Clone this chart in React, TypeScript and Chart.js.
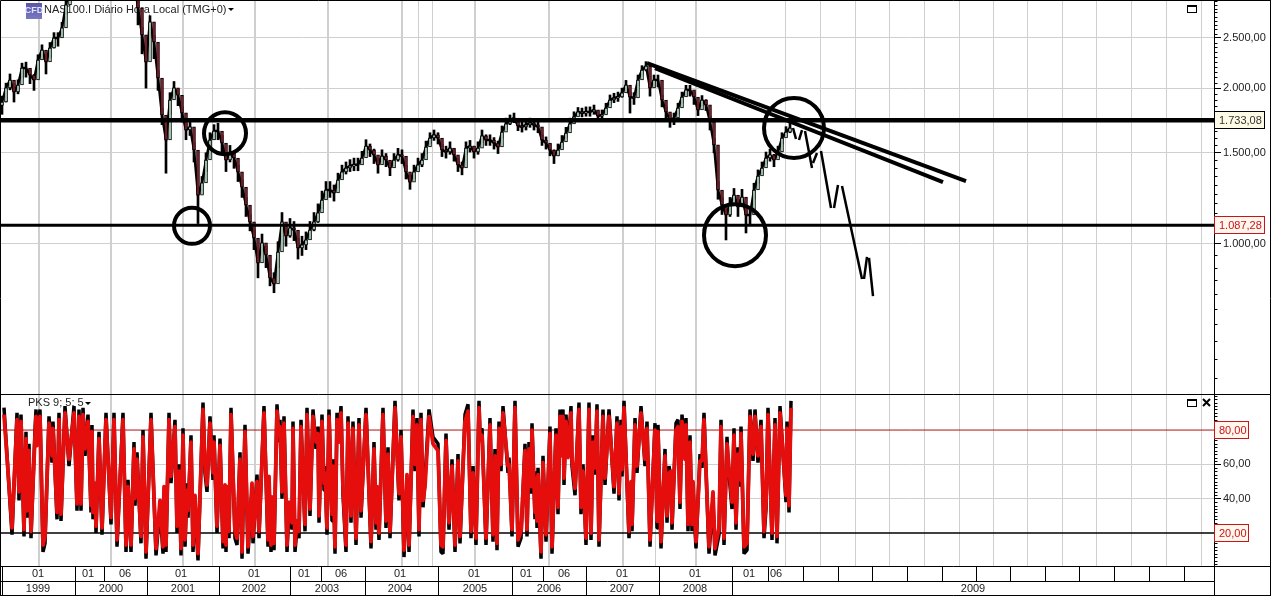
import React, { useEffect, useRef } from "react";
import { Chart, registerables } from "chart.js";

Chart.register(...registerables);

const sessionStep = 4;
const firstSession = 2;

const closes = [
  1880, 2002, 2074, 1966, 2028, 2187, 2187, 2120, 2074, 2267,
  2370, 2247, 2391, 2500, 2500, 2614, 2896, 3150, 3400, 3650,
  3900, 4050, 4400, 4650, 3950, 3400, 3700, 3720, 3800, 3900,
  3820, 3650, 3400, 3250, 2856, 2534, 2247, 2685, 2456, 2092,
  1775, 1588, 1897, 2002, 1938, 1791, 1660, 1683, 1519, 1243,
  1312, 1453, 1588, 1653, 1653, 1567, 1453, 1499, 1466, 1378,
  1288, 1189, 1103, 1027, 919, 1005, 952, 860, 837, 965,
  1103, 1036, 1074, 1064, 983, 996, 1018, 1064, 1103, 1148,
  1216, 1271, 1271, 1255, 1329, 1378, 1402, 1415, 1422, 1422,
  1466, 1546, 1519, 1486, 1422, 1479, 1453, 1402, 1453, 1486,
  1479, 1378, 1317, 1378, 1422, 1453, 1539, 1602, 1624, 1602,
  1519, 1506, 1532, 1486, 1422, 1402, 1532, 1546, 1506, 1532,
  1617, 1588, 1588, 1567, 1539, 1645, 1706, 1736, 1751, 1690,
  1683, 1698, 1713, 1698, 1683, 1588, 1567, 1519, 1479, 1519,
  1574, 1638, 1706, 1760, 1799, 1791, 1799, 1799, 1815, 1767,
  1775, 1831, 1897, 1914, 1923, 1958, 2028, 1923, 1914, 2074,
  2168, 2207, 2002, 2074, 2074, 1897, 1799, 1736, 1751, 1831,
  1923, 1984, 1984, 1923, 1815, 1897, 1856, 1721, 1554, 1271,
  1189, 1138, 1189, 1243, 1179, 1232, 1138, 1138, 1271, 1353,
  1402, 1466, 1486, 1453, 1506, 1602, 1645, 1675,
];

const highs = [
  1930, 2045, 2130, 2040, 2075, 2235, 2245, 2170, 2125, 2320,
  2425, 2310, 2450, 2560, 2560, 2680, 2980, 3250, 3500, 3750,
  4000, 4150, 4500, 4750, 4100, 3550, 3800, 3820, 3900, 4000,
  3950, 3750, 3500, 3350, 2950, 2620, 2330, 2760, 2530, 2160,
  1830, 1640, 1960, 2060, 1990, 1840, 1710, 1730, 1570, 1290,
  1350, 1500, 1640, 1700, 1710, 1620, 1500, 1550, 1510, 1420,
  1330, 1230, 1140, 1065, 960, 1045, 990, 895, 880, 1010,
  1150, 1080, 1120, 1105, 1025, 1035, 1055, 1105, 1150, 1195,
  1265, 1320, 1320, 1300, 1370, 1420, 1440, 1455, 1465, 1465,
  1510, 1590, 1560, 1525, 1465, 1520, 1495, 1445, 1495, 1530,
  1520, 1420, 1360, 1420, 1465, 1495, 1580, 1640, 1660, 1640,
  1560, 1545, 1575, 1525, 1465, 1440, 1575, 1585, 1545, 1575,
  1660, 1625, 1625, 1605, 1580, 1690, 1750, 1775, 1790, 1730,
  1720, 1735, 1750, 1735, 1720, 1625, 1610, 1560, 1520, 1560,
  1620, 1680, 1750, 1800, 1835, 1830, 1840, 1840, 1855, 1810,
  1815, 1870, 1940, 1955, 1965, 2000, 2070, 1965, 1960, 2120,
  2210, 2250, 2050, 2120, 2120, 1940, 1840, 1775, 1790, 1870,
  1965, 2025, 2025, 1965, 1860, 1935, 1900, 1765, 1600, 1320,
  1230, 1170, 1230, 1280, 1220, 1275, 1175, 1180, 1310, 1390,
  1440, 1505, 1525, 1490, 1545, 1640, 1685, 1715,
];

const lows = [
  1780, 1880, 1985, 1880, 1950, 2090, 2100, 2040, 1980, 2170,
  2270, 2130, 2290, 2390, 2410, 2520, 2780, 3000, 3250, 3500,
  3750, 3900, 4200, 4400, 3700, 3200, 3500, 3550, 3650, 3750,
  3650, 3450, 3200, 3050, 2650, 2330, 2000, 2500, 2280, 1980,
  1700, 1370, 1780, 1920, 1850, 1720, 1590, 1620, 1440, 1095,
  1250, 1380, 1520, 1590, 1590, 1500, 1380, 1440, 1400, 1320,
  1230, 1130, 1060, 975, 860, 960, 900, 830, 805, 900,
  1050, 990, 1030, 1015, 935, 950, 975, 1020, 1060, 1100,
  1170, 1225, 1230, 1210, 1285, 1335, 1365, 1380, 1385, 1385,
  1425, 1500, 1475, 1430, 1370, 1430, 1410, 1355, 1405, 1445,
  1430, 1335, 1275, 1335, 1380, 1410, 1495, 1560, 1585, 1560,
  1475, 1465, 1490, 1445, 1380, 1360, 1490, 1505, 1465, 1490,
  1570, 1550, 1550, 1525, 1495, 1600, 1665, 1700, 1715, 1655,
  1645, 1660, 1680, 1660, 1640, 1550, 1525, 1480, 1430, 1480,
  1530, 1600, 1670, 1720, 1765, 1760, 1765, 1765, 1780, 1730,
  1740, 1790, 1860, 1875, 1885, 1920, 1985, 1790, 1860, 2020,
  2120, 2160, 1930, 2010, 2010, 1840, 1740, 1680, 1700, 1780,
  1870, 1930, 1930, 1860, 1770, 1850, 1810, 1660, 1500, 1220,
  1140, 1018, 1130, 1190, 1130, 1180, 1050, 1090, 1220, 1310,
  1365, 1425, 1445, 1410, 1465, 1560, 1610, 1640,
];

const oscSessions = [
  4, 12, 17, 19, 21, 24, 26, 27, 29, 31,
  35, 36, 37, 40, 43, 45, 49, 52, 53, 57,
  59, 61, 65, 69, 74, 77, 79, 81, 83, 85,
  88, 91, 92, 93, 95, 96, 99, 102, 106, 111,
  114, 117, 123, 126, 128, 131, 134, 135, 137, 141,
  143, 146, 151, 156, 160, 163, 164, 166, 169, 171,
  175, 177, 179, 181, 183, 185, 187, 188, 191, 193,
  195, 198, 203, 205, 207, 210, 213, 214, 217, 220,
  223, 225, 226, 227, 229, 231, 235, 237, 240, 242,
  245, 248, 252, 253, 257, 259, 264, 268, 269, 271,
  272, 274, 277, 279, 280, 282, 284, 287, 289, 292,
  293, 295, 297, 299, 301, 305, 307, 310, 313, 316,
  318, 319, 322, 324, 325, 327, 329, 332, 333, 335,
  337, 339, 341, 343, 346, 348, 351, 353, 356, 359,
  361, 366, 371, 374, 376, 377, 379, 383, 386, 388,
  390, 395, 399, 401, 404, 407, 409, 413, 415, 417,
  419, 421, 423, 425, 429, 433, 438, 441, 443, 446,
  449, 452, 455, 458, 460, 465, 468, 471, 473, 476,
  479, 480, 482, 486, 490, 493, 495, 497, 499, 501,
  503, 508, 509, 512, 515, 518, 521, 525, 527, 529,
  531, 532, 535, 536, 537, 538, 541, 543, 546, 550,
  552, 556, 558, 560, 561, 563, 564, 566, 568, 571,
  572, 575, 579, 581, 583, 586, 589, 591, 593, 595,
  597, 599, 603, 605, 609, 614, 617, 619, 621, 622,
  624, 629, 631, 632, 635, 637, 641, 645, 647, 650,
  655, 657, 658, 661, 665, 667, 669, 671, 672, 676,
  678, 680, 682, 685, 686, 688, 690, 692, 693, 696,
  700, 702, 704, 709, 713, 715, 719, 721, 724, 727,
  728, 732, 734, 736, 738, 740, 741, 744, 747, 750,
  753, 755, 758, 761, 764, 766, 768, 772, 775, 777,
  780, 786, 787, 789, 791,
];

const oscFast = [
  93, 19, 90, 39, 89, 18, 79, 29, 72, 17,
  80, 92, 75, 92, 9, 14, 88, 61, 85, 28,
  90, 27, 94, 59, 94, 33, 92, 33, 93, 65,
  89, 32, 83, 28, 45, 20, 79, 19, 90, 25,
  90, 12, 90, 9, 51, 9, 73, 36, 67, 14,
  80, 5, 90, 7, 35, 8, 43, 9, 90, 49,
  86, 20, 60, 7, 81, 12, 49, 29, 77, 9,
  38, 4, 96, 55, 44, 88, 51, 77, 20, 75,
  11, 44, 9, 43, 17, 93, 17, 13, 67, 5,
  83, 8, 45, 14, 54, 17, 94, 12, 49, 9,
  37, 10, 95, 73, 86, 40, 88, 9, 34, 22,
  85, 9, 23, 17, 86, 21, 93, 30, 92, 69,
  82, 26, 89, 45, 59, 19, 92, 27, 63, 8,
  90, 77, 94, 42, 9, 88, 26, 85, 13, 87,
  29, 93, 11, 73, 22, 43, 16, 93, 23, 70,
  17, 97, 39, 80, 6, 50, 9, 92, 56, 87,
  18, 90, 35, 51, 92, 76, 72, 9, 8, 78,
  22, 63, 9, 66, 14, 89, 95, 17, 59, 13,
  97, 78, 81, 13, 87, 15, 69, 10, 85, 56,
  94, 55, 64, 18, 97, 12, 17, 72, 18, 73,
  43, 84, 28, 56, 23, 58, 5, 65, 15, 82,
  8, 81, 31, 92, 69, 92, 48, 89, 68, 94,
  59, 42, 96, 31, 60, 13, 96, 16, 77, 54,
  95, 12, 92, 48, 92, 43, 88, 39, 86, 53,
  97, 17, 46, 21, 87, 55, 94, 59, 85, 12,
  84, 23, 83, 11, 69, 26, 59, 52, 22, 84,
  86, 34, 89, 67, 87, 21, 77, 21, 46, 11,
  66, 58, 90, 8, 40, 7, 19, 86, 13, 76,
  61, 34, 81, 22, 70, 47, 82, 8, 10, 92,
  62, 92, 61, 86, 17, 34, 93, 16, 87, 14,
  94, 38, 85, 32, 97,
];

const oscSlow = [
  89, 23, 86, 44, 85, 22, 75, 33, 68, 21,
  76, 88, 71, 88, 13, 18, 84, 65, 81, 32,
  86, 31, 90, 63, 90, 37, 88, 37, 89, 69,
  85, 36, 79, 32, 49, 24, 75, 23, 86, 29,
  86, 16, 86, 13, 47, 13, 69, 40, 63, 18,
  76, 9, 86, 11, 39, 12, 47, 13, 86, 53,
  82, 24, 56, 11, 77, 16, 45, 33, 73, 13,
  42, 8, 92, 59, 48, 84, 55, 73, 24, 71,
  15, 48, 13, 47, 21, 89, 21, 17, 63, 9,
  79, 12, 49, 18, 50, 21, 90, 16, 53, 13,
  41, 14, 91, 77, 82, 44, 84, 13, 38, 26,
  81, 13, 27, 21, 82, 25, 89, 34, 88, 73,
  78, 30, 85, 49, 55, 23, 88, 31, 59, 12,
  86, 73, 90, 46, 13, 84, 30, 81, 17, 83,
  33, 89, 15, 69, 26, 47, 20, 89, 27, 66,
  21, 93, 43, 76, 10, 54, 13, 88, 60, 83,
  22, 86, 39, 47, 88, 72, 68, 13, 12, 74,
  26, 59, 13, 62, 18, 85, 91, 21, 55, 17,
  93, 74, 77, 17, 83, 19, 65, 14, 81, 60,
  90, 59, 60, 22, 93, 16, 21, 68, 22, 69,
  47, 80, 32, 52, 27, 54, 9, 61, 19, 78,
  12, 77, 35, 88, 65, 88, 52, 85, 64, 90,
  63, 46, 92, 35, 56, 17, 92, 20, 73, 58,
  91, 16, 88, 52, 88, 47, 84, 43, 82, 57,
  93, 21, 50, 25, 83, 59, 90, 63, 81, 16,
  80, 27, 79, 15, 65, 30, 55, 56, 26, 80,
  82, 38, 85, 63, 83, 25, 73, 25, 50, 15,
  62, 62, 86, 12, 44, 11, 23, 82, 17, 72,
  65, 38, 77, 26, 66, 51, 78, 12, 14, 88,
  66, 88, 65, 82, 21, 38, 89, 20, 83, 18,
  90, 42, 81, 36, 93,
];

const resistance = 1733.08;
const support = 1087.28;
const oscUpper = 80;
const oscLower = 20;

const trendA = [[647, 2236], [966, 1323]];
const trendB = [[655, 2185], [943, 1317]];

const forecastSessions = [793, 796, 797, 799, 802, 803, 805, 812, 812.5, 813, 817, 819, 821, 831, 832, 834, 838, 840, 842, 862, 863, 864, 867, 868, 869, 873];
const forecastPrices = [1675, 1595, null, 1588, 1660, null, 1653, 1402, null, 1433, 1499, null, 1512, 1173, null, 1173, 1300, null, 1294, 856, null, 856, 944, null, 940, 793];

const circleSessions = [192, 225, 735, 794];
const circlePrices = [1084, 1637, 1040, 1675];
const circleRadii = [18, 21, 31, 30];

const priceTicks = [1000, 1500, 2000, 2500];
const priceTickLabels = ["1.000,00", "1.500,00", "2.000,00", "2.500,00"];
const priceMinorTicks = [550, 600, 650, 700, 750, 800, 850, 900, 950, 1050, 1100, 1150, 1200, 1250, 1300, 1350, 1400, 1450, 1550, 1600, 1650, 1700, 1750, 1800, 1850, 1900, 1950, 2050, 2100, 2150, 2200, 2250, 2300, 2350, 2400, 2450, 2550, 2600, 2650, 2700, 2750, 2800, 2850, 2900, 2950];
const oscTicks = [40, 60];
const oscTickLabels = ["40,00", "60,00"];
const oscMinorTicks = [2, 4, 6, 8, 10, 12, 14, 16, 18, 22, 24, 26, 28, 30, 32, 34, 36, 38, 42, 44, 46, 48, 50, 52, 54, 56, 58, 62, 64, 66, 68, 70, 72, 74, 76, 78, 82, 84, 86, 88, 90, 92, 94, 96, 98, 100];

const yearBoundaries = [2, 75, 147, 219, 290, 365, 438, 512, 586, 659, 732];
const monthBoundaries = [104, 321, 543, 768, 803, 838, 872, 907, 942, 976, 1010, 1045, 1079, 1114, 1149, 1184];
const yearLabels = ["1999", "2000", "2001", "2002", "2003", "2004", "2005", "2006", "2007", "2008", "2009"];
const yearLabelSessions = [38, 111, 183, 254, 327, 400, 475, 549, 622, 695, 973];
const monthLabels = ["01", "01", "06", "01", "01", "01", "06", "01", "01", "01", "06", "01", "01", "01", "06"];
const monthLabelSessions = [38, 88, 125, 181, 254, 304, 341, 400, 474, 526, 564, 622, 695, 749, 776];

const chartTitle = "NAS100.I Diário Hora Local (TMG+0)";
const oscTitle = "PKS 9; 5; 5";

const FONT = "'Liberation Sans', Arial, sans-serif";
const sessions = closes.map((_, i) => firstSession + i * sessionStep);

const noAxisPadding = (s: any) => {
  s.paddingTop = 0;
  s.paddingBottom = 0;
  s.paddingLeft = 0;
  s.paddingRight = 0;
};

const panelsPlugin = {
  id: "panels",
  beforeDatasetsDraw(chart: any) {
    const { ctx } = chart;
    ctx.save();
    ctx.font = `11px ${FONT}`;
    ctx.fillStyle = "#222";
    ctx.textAlign = "left";
    ctx.textBaseline = "middle";
    ctx.fillText(chartTitle, 44, 10);
    ctx.fillText(oscTitle, 28, 403);
    ctx.restore();
  },
  afterDraw(chart: any) {
    const { ctx, scales } = chart;
    const { x, yPrice, yOsc } = scales;
    const W = chart.width;
    const H = chart.height;
    const axisX = x.right;
    const paneTop = yOsc.top;
    const rowA = yOsc.bottom;
    const rowB = rowA + 15;
    ctx.save();
    ctx.strokeStyle = "#000";
    ctx.lineWidth = 1;
    const seg = (a: number, b: number, c: number, d: number) => {
      ctx.beginPath();
      ctx.moveTo(Math.round(a) + 0.5, Math.round(b) + 0.5);
      ctx.lineTo(Math.round(c) + 0.5, Math.round(d) + 0.5);
      ctx.stroke();
    };
    seg(0, paneTop, W, paneTop);
    seg(0, rowA, W, rowA);
    seg(0, rowB, axisX, rowB);
    seg(0, H - 1, W, H - 1);
    seg(W - 1, 0, W - 1, H);
    seg(0, 0, W, 0);
    seg(0, 0, 0, H);
    seg(axisX, 0, axisX, H);
    yearBoundaries.forEach((v) => seg(x.getPixelForValue(v), rowA, x.getPixelForValue(v), H - 1));
    monthBoundaries.forEach((v) => seg(x.getPixelForValue(v), rowA, x.getPixelForValue(v), rowB));

    priceMinorTicks.forEach((v) => {
      const p = yPrice.getPixelForValue(v);
      seg(axisX, p, axisX + 3, p);
    });
    oscMinorTicks.forEach((v) => {
      const p = yOsc.getPixelForValue(v);
      seg(axisX, p, axisX + 3, p);
    });

    ctx.font = `11px ${FONT}`;
    ctx.fillStyle = "#222";
    ctx.textAlign = "center";
    ctx.textBaseline = "middle";
    monthLabels.forEach((t, i) => ctx.fillText(t, x.getPixelForValue(monthLabelSessions[i]), rowA + 8));
    yearLabels.forEach((t, i) => ctx.fillText(t, x.getPixelForValue(yearLabelSessions[i]), rowB + 7.5));

    const tag = (scale: any, value: number, label: string, w: number, border: string, fill: string, color: string) => {
      const p = Math.round(scale.getPixelForValue(value));
      ctx.fillStyle = fill;
      ctx.fillRect(axisX + 0.5, p - 8.5, w, 17);
      ctx.strokeStyle = border;
      ctx.strokeRect(axisX + 0.5, p - 8.5, w, 17);
      ctx.fillStyle = color;
      ctx.textAlign = "left";
      ctx.fillText(label, axisX + 5, p + 0.5);
    };
    tag(yPrice, resistance, "1.733,08", 50, "#000", "#fdfbe6", "#333");
    tag(yPrice, support, "1.087,28", 50, "#c8141e", "#fff6ec", "#c8141e");
    tag(yOsc, oscUpper, "80,00", 34, "#c8141e", "#fff6ec", "#c8141e");
    tag(yOsc, oscLower, "20,00", 34, "#c8141e", "#fff6ec", "#c8141e");

    // window buttons and indicator arrows
    ctx.strokeStyle = "#000";
    ctx.fillStyle = "#000";
    const maxBtn = (bx: number, by: number) => {
      ctx.lineWidth = 1;
      ctx.strokeRect(bx + 0.5, by + 0.5, 9, 7);
      ctx.fillRect(bx, by, 10, 2);
    };
    maxBtn(1187, 5);
    maxBtn(1187, 399);
    ctx.lineWidth = 2;
    ctx.beginPath();
    ctx.moveTo(1203, 399);
    ctx.lineTo(1210, 406);
    ctx.moveTo(1210, 399);
    ctx.lineTo(1203, 406);
    ctx.stroke();
    const arrow = (ax: number, ay: number) => {
      ctx.beginPath();
      ctx.moveTo(ax, ay);
      ctx.lineTo(ax + 6, ay);
      ctx.lineTo(ax + 3, ay + 3);
      ctx.closePath();
      ctx.fill();
    };
    arrow(228, 8);
    arrow(85, 402);

    // data feed badge
    const g = ctx.createLinearGradient(26, 3, 26, 19);
    g.addColorStop(0, "#5a55a8");
    g.addColorStop(1, "#7a78c0");
    ctx.fillStyle = g;
    ctx.fillRect(26, 3, 16, 16);
    ctx.fillStyle = "#dfe4ff";
    ctx.font = `bold 9px ${FONT}`;
    ctx.textAlign = "center";
    ctx.fillText("CFD", 34, 11);
    ctx.restore();
  },
};

export default function App() {
  const ref = useRef<HTMLCanvasElement | null>(null);

  useEffect(() => {
    document.body.style.margin = "0";
    const bodies = closes.map((c, i) => ({ x: sessions[i], y: [i === 0 ? c * 0.985 : closes[i - 1], c] }));
    const bodyColors = closes.map((c, i) => (i > 0 && c < closes[i - 1] ? "#8f1a28" : "#b8e4ca"));
    const line = (data: any[], yAxisID: string, color: string, width: number, order: number, extra: any = {}) => ({
      type: "line",
      data,
      yAxisID,
      xAxisID: "x",
      borderColor: color,
      backgroundColor: color,
      borderWidth: width,
      pointRadius: 0,
      tension: 0,
      fill: false,
      spanGaps: false,
      order,
      ...extra,
    });
    const chart = new Chart(ref.current as HTMLCanvasElement, {
      type: "bar",
      data: {
        datasets: [
          ...[
            line(trendA.map(([x, y]) => ({ x, y })), "yPrice", "#000", 4, 2),
            line(trendB.map(([x, y]) => ({ x, y })), "yPrice", "#000", 4, 2),
            line(forecastSessions.map((x, i) => ({ x, y: forecastPrices[i] })), "yPrice", "#000", 2.5, 2),
            line([{ x: 0, y: resistance }, { x: 1214, y: resistance }], "yPrice", "#000", 4.5, 3),
            line([{ x: 0, y: support }, { x: 1214, y: support }], "yPrice", "#000", 3, 3),
            line(circleSessions.map((x, i) => ({ x, y: circlePrices[i] })), "yPrice", "#000", 4, 1, {
              showLine: false,
              pointRadius: circleRadii,
              pointBorderWidth: 4,
              pointBorderColor: "#000",
              pointBackgroundColor: "rgba(0,0,0,0)",
              pointStyle: "circle",
            }),
            line(closes.map((y, i) => ({ x: sessions[i], y })), "yPrice", "#000", 2.5, 7),
            line([{ x: 0, y: oscUpper }, { x: 1214, y: oscUpper }], "yOsc", "#b01010", 1, 9),
            line([{ x: 0, y: oscLower }, { x: 1214, y: oscLower }], "yOsc", "#000", 1.4, 9),
            line(oscSessions.map((x, i) => ({ x, y: oscFast[i] })), "yOsc", "#000", 3.5, 8, { borderJoinStyle: "bevel" }),
            line(oscSessions.map((x, i) => ({ x, y: oscSlow[i] })), "yOsc", "#e60d0d", 3.8, 7, { borderJoinStyle: "round" }),
          ],
          {
            type: "bar",
            data: bodies,
            yAxisID: "yPrice",
            xAxisID: "x",
            backgroundColor: bodyColors,
            borderColor: "#000",
            borderWidth: 1,
            borderSkipped: false,
            barThickness: 3,
            grouped: false,
            order: 5,
          },
          {
            type: "bar",
            data: closes.map((_, i) => ({ x: sessions[i], y: [lows[i], highs[i]] })),
            yAxisID: "yPrice",
            xAxisID: "x",
            backgroundColor: "#000",
            borderWidth: 0,
            barThickness: 2,
            grouped: false,
            order: 6,
          },
        ] as any,
      },
      options: {
        responsive: false,
        animation: false,
        events: [],
        layout: { padding: 0, autoPadding: false },
        plugins: { legend: { display: false }, tooltip: { enabled: false }, title: { display: false } },
        scales: {
          x: {
            type: "linear",
            min: 0,
            max: 1214,
            offset: false,
            afterBuildTicks: (s: any) => {
              s.ticks = [...yearBoundaries, ...monthBoundaries].map((value) => ({ value }));
            },
            afterFit: (s: any) => {
              s.height = 30;
              noAxisPadding(s);
            },
            ticks: { display: false },
            border: { display: false },
            grid: {
              drawTicks: false,
              color: "#cfcfcf",
              lineWidth: (c: any) => (yearBoundaries.includes(c.tick?.value) ? 2 : 1),
            },
          },
          yPrice: {
            type: "logarithmic",
            position: "right",
            stack: "panes",
            stackWeight: 394,
            min: 513,
            max: 2960,
            afterBuildTicks: (s: any) => {
              s.ticks = priceTicks.map((value) => ({ value }));
            },
            afterFit: (s: any) => {
              s.width = 57;
              noAxisPadding(s);
            },
            ticks: {
              autoSkip: false,
              maxRotation: 0,
              padding: 2,
              color: "#222",
              font: { family: "Liberation Sans", size: 11 },
              callback: (v: any) => priceTickLabels[priceTicks.indexOf(Number(v))] ?? "",
            },
            border: { display: true, color: "#000" },
            grid: { color: "#cfcfcf", tickColor: "#000", tickLength: 7 },
          },
          yOsc: {
            type: "linear",
            position: "right",
            stack: "panes",
            stackWeight: 172,
            min: 0.8,
            max: 101,
            afterBuildTicks: (s: any) => {
              s.ticks = oscTicks.map((value) => ({ value }));
            },
            afterFit: (s: any) => {
              s.width = 57;
              noAxisPadding(s);
            },
            ticks: {
              autoSkip: false,
              maxRotation: 0,
              padding: 2,
              color: "#222",
              font: { family: "Liberation Sans", size: 11 },
              callback: (v: any) => oscTickLabels[oscTicks.indexOf(Number(v))] ?? "",
            },
            border: { display: true, color: "#000" },
            grid: { color: "#cfcfcf", tickColor: "#000", tickLength: 7 },
          },
        },
      } as any,
      plugins: [panelsPlugin],
    } as any);
    return () => chart.destroy();
  }, []);

  return (
    <canvas
      ref={ref}
      width={1271}
      height={596}
      style={{ display: "block", width: 1271, height: 596, background: "#fff" }}
    />
  );
}
